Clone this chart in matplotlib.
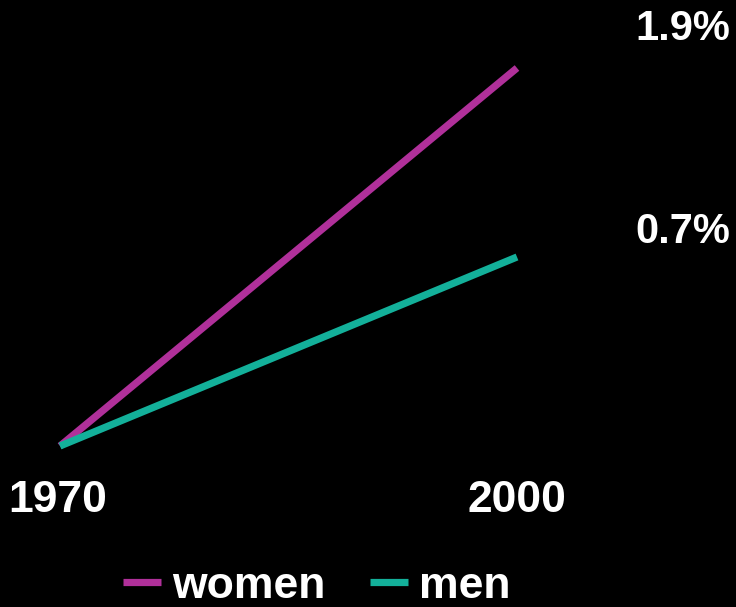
import matplotlib
matplotlib.use('Agg')
import matplotlib.pyplot as plt

# --- DATEN ---
jahre = [1970, 2000]
frauen = [0.0, 2.0]   # relative Steigung (Bildhoehe)
maenner = [0.0, 1.0]
serien_namen = ['women', 'men']
raten_labels = ['1.9%', '0.7%']
farben = ['#b0309a', '#13b09a']

schrift = 'Liberation Sans'

fig = plt.figure(figsize=(7.36, 6.07), dpi=100, facecolor='black')
ax = fig.add_axes([60 / 736, 1 - 446 / 607, 457 / 736, 378 / 607])
ax.set_facecolor('black')
ax.set_xlim(jahre[0], jahre[-1])
ax.set_ylim(0, 2)
ax.axis('off')

l1, = ax.plot(jahre, frauen, color=farben[0], lw=5.2, clip_on=False, solid_capstyle='butt')
l2, = ax.plot(jahre, maenner, color=farben[1], lw=5.2, clip_on=False, solid_capstyle='butt')

# Jahreszahlen unter der Grafik
for j, x in zip(['1970', '2000'], [58, 517]):
    fig.text(x / 736, 1 - 501 / 607, j, color='white', fontsize=32, fontweight='bold',
             family=schrift, ha='center', va='center')

# Raten rechts
for lab, y in zip(raten_labels, [29, 232]):
    fig.text(683 / 736, 1 - y / 607, lab, color='white', fontsize=30, fontweight='bold',
             family=schrift, ha='center', va='center')

fig.legend([l1, l2], serien_namen, loc='center', bbox_to_anchor=(317 / 736, 1 - 586 / 607),
           ncol=2, frameon=False, handlelength=0.85, handletextpad=0.25, columnspacing=1.0,
           borderpad=0.1, prop={'family': schrift, 'weight': 'bold', 'size': 32},
           labelcolor='white')

fig.savefig('out.png', dpi=100, facecolor='black')
